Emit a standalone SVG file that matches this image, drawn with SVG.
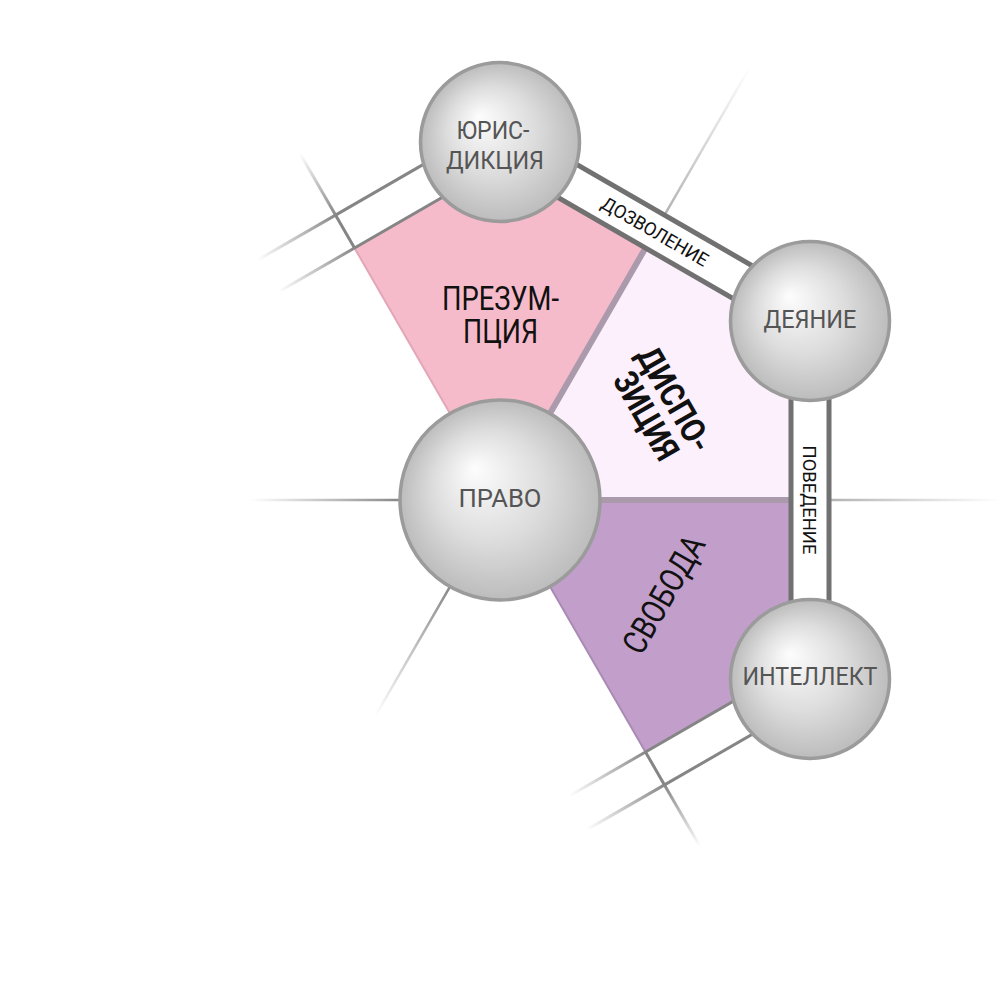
<svg xmlns="http://www.w3.org/2000/svg" xmlns:xlink="http://www.w3.org/1999/xlink" width="1000" height="1000" viewBox="0 0 1000 1000">
<style>
  .ln { fill: #858585; }
  .ball { fill: url(#ball); stroke: #9b9b9b; stroke-width: 3.5; }
  .strip { fill: #ffffff; stroke: #717171; stroke-width: 5; }
  .mauve { fill: #aa9aab; }
  .nl { font-family: Roboto, "Liberation Sans", sans-serif; font-size: 26.5px; fill: #555555; text-anchor: middle; }
  .sl { font-family: Roboto, "Liberation Sans", sans-serif; font-size: 34px; fill: #111111; text-anchor: middle; }
  .el { font-family: Roboto, "Liberation Sans", sans-serif; font-size: 18.5px; fill: #111111; text-anchor: middle; }
</style>
<defs>
  <radialGradient id="ball" cx="0.5" cy="0.5" r="0.5" fx="0.37" fy="0.34">
    <stop offset="0" stop-color="#fdfdfd"/>
    <stop offset="0.55" stop-color="#dddddd"/>
    <stop offset="1" stop-color="#bcbcbc"/>
  </radialGradient>
  <linearGradient id="fadeUp" x1="0" y1="0" x2="0" y2="1">
    <stop offset="0" stop-color="#888888" stop-opacity="0"/>
    <stop offset="1" stop-color="#888888"/>
  </linearGradient>
  <linearGradient id="fadeUpLight" x1="0" y1="0" x2="0" y2="1">
    <stop offset="0" stop-color="#b4b4b4" stop-opacity="0"/>
    <stop offset="1" stop-color="#b4b4b4"/>
  </linearGradient>
  <linearGradient id="fadeLeft" x1="0" y1="0" x2="1" y2="0">
    <stop offset="0" stop-color="#888888" stop-opacity="0"/>
    <stop offset="1" stop-color="#888888"/>
  </linearGradient>
  <g id="halfStrip">
    <rect x="500" y="207.5" width="180" height="3" class="ln"/>
    <rect x="500" y="169.5" width="180" height="3" class="ln"/>
    <rect x="412" y="207.5" width="88" height="3" fill="url(#fadeLeft)"/>
    <rect x="410" y="169.5" width="90" height="3" fill="url(#fadeLeft)"/>
    <rect x="498.5" y="171" width="3" height="38" class="ln"/>
    <rect x="498.5" y="100" width="3" height="71" fill="url(#fadeUp)"/>
  </g>
  <rect id="rayFull" x="498.75" y="250" width="2.5" height="150" fill="url(#fadeUp)"/>
  <rect id="rayLight" x="498.75" y="0" width="2.5" height="169" fill="url(#fadeUpLight)"/>
  <rect id="bound" x="497" y="209" width="6" height="200" class="mauve"/>
</defs>

<g id="sectors">
  <polygon id="presumption" points="500,500 354.5,248 500,164 645.5,248" fill="#f6bbca"/>
  <polygon id="disposition" points="500,500 645.5,248 791,332 791,500" fill="#fdf0fd"/>
  <polygon id="freedom" points="500,500 791,500 791,668 645.5,752" fill="#c19fca"/>
  <rect x="499" y="209" width="2" height="200" fill="#e3a6b6" transform="rotate(-30 500 500)"/>
  <rect x="499" y="209" width="2" height="200" fill="#a98ab3" transform="rotate(150 500 500)"/>
  <use xlink:href="#bound" href="#bound" transform="rotate(30 500 500)"/>
  <use xlink:href="#bound" href="#bound" transform="rotate(90 500 500)"/>
</g>

<g id="connectors">
  <use xlink:href="#rayFull" href="#rayFull" transform="rotate(-90 500 500)"/>
  <use xlink:href="#rayFull" href="#rayFull" transform="rotate(210 500 500)"/>
  <use xlink:href="#rayLight" href="#rayLight" transform="rotate(30 500 500)"/>
  <use xlink:href="#rayLight" href="#rayLight" transform="rotate(90 500 500)"/>
  <use xlink:href="#halfStrip" href="#halfStrip" transform="rotate(-30 500 500)"/>
  <use xlink:href="#halfStrip" href="#halfStrip" transform="rotate(150 500 500) translate(1000 0) scale(-1 1)"/>
  <g id="dozvolenie" transform="rotate(30 500 500)">
    <rect x="321" y="171" width="358" height="38" class="strip"/>
    <text x="500" y="196.6" class="el" textLength="120" lengthAdjust="spacingAndGlyphs">ДОЗВОЛЕНИЕ</text>
  </g>
  <g id="povedenie" transform="rotate(90 500 500)">
    <rect x="321" y="171" width="358" height="38" class="strip"/>
    <text x="500" y="196.6" class="el" textLength="109" lengthAdjust="spacingAndGlyphs">ПОВЕДЕНИЕ</text>
  </g>
</g>

<g id="labels-sectors">
  <text x="500.5" y="310" class="sl" textLength="117" lengthAdjust="spacingAndGlyphs">ПРЕЗУМ-</text>
  <text x="500.5" y="343" class="sl" textLength="75" lengthAdjust="spacingAndGlyphs">ПЦИЯ</text>
  <g transform="rotate(60 661 407)">
    <text x="661" y="403" class="sl" font-weight="bold" textLength="116" lengthAdjust="spacingAndGlyphs">ДИСПО-</text>
    <text x="661" y="436" class="sl" font-weight="bold" textLength="96" lengthAdjust="spacingAndGlyphs">ЗИЦИЯ</text>
  </g>
  <text x="663" y="606.5" class="sl" transform="rotate(-60 663 594)" textLength="130" lengthAdjust="spacingAndGlyphs">СВОБОДА</text>
</g>

<g id="node-jurisdiction">
  <circle cx="500" cy="142" r="79.5" class="ball"/>
  <text x="493" y="139" class="nl" textLength="73" lengthAdjust="spacingAndGlyphs">ЮРИС-</text>
  <text x="495" y="169" class="nl" textLength="98" lengthAdjust="spacingAndGlyphs">ДИКЦИЯ</text>
</g>
<g id="node-deyanie">
  <circle cx="810" cy="321" r="79.5" class="ball"/>
  <text x="810" y="328" class="nl" textLength="93" lengthAdjust="spacingAndGlyphs">ДЕЯНИЕ</text>
</g>
<g id="node-intellekt">
  <circle cx="810" cy="679" r="79.5" class="ball"/>
  <text x="810" y="685" class="nl" textLength="135" lengthAdjust="spacingAndGlyphs">ИНТЕЛЛЕКТ</text>
</g>
<g id="node-pravo">
  <circle cx="500" cy="500" r="100" class="ball"/>
  <text x="500" y="507" class="nl" textLength="83" lengthAdjust="spacingAndGlyphs">ПРАВО</text>
</g>
</svg>
